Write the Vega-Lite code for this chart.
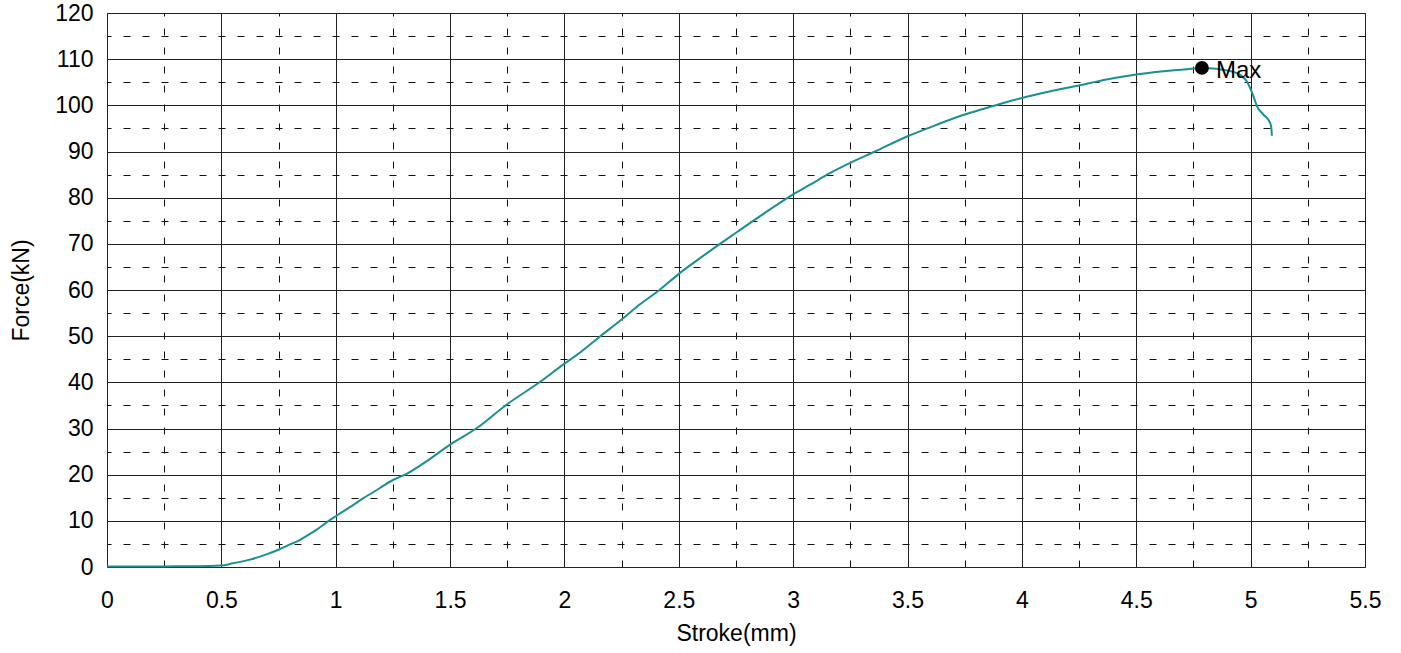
{
  "$schema": "https://vega.github.io/schema/vega-lite/v6.json",
  "width": 1258,
  "height": 554,
  "autosize": "none",
  "padding": {"left": 107, "top": 13, "right": 36, "bottom": 86},
  "background": "white",
  "config": {
    "view": {"stroke": "#333333", "strokeWidth": 1},
    "font": "Liberation Sans",
    "axis": {
      "domain": false,
      "ticks": false,
      "gridWidth": 1,
      "gridOpacity": 1,
      "labelFont": "Liberation Sans",
      "labelFontSize": 23,
      "labelColor": "#000000",
      "titleFont": "Liberation Sans",
      "titleFontSize": 23,
      "titleFontWeight": "normal",
      "titleColor": "#000000",
      "labelOverlap": false,
      "labelFlush": false
    }
  },
  "datasets": {
    "curve": [
      {"stroke": 0.0, "force": 0.1}, {"stroke": 0.1, "force": 0.1}, {"stroke": 0.2, "force": 0.1},
      {"stroke": 0.3, "force": 0.15}, {"stroke": 0.4, "force": 0.15}, {"stroke": 0.5, "force": 0.3},
      {"stroke": 0.55, "force": 0.8}, {"stroke": 0.625, "force": 1.6}, {"stroke": 0.7, "force": 2.8},
      {"stroke": 0.752, "force": 3.8}, {"stroke": 0.8, "force": 4.9}, {"stroke": 0.829, "force": 5.5},
      {"stroke": 0.875, "force": 6.8}, {"stroke": 0.917, "force": 8.1}, {"stroke": 0.975, "force": 10.2},
      {"stroke": 1.0, "force": 11.0}, {"stroke": 1.06, "force": 12.9}, {"stroke": 1.121, "force": 14.9},
      {"stroke": 1.19, "force": 17.0}, {"stroke": 1.252, "force": 18.9}, {"stroke": 1.303, "force": 20.0},
      {"stroke": 1.4, "force": 23.0}, {"stroke": 1.5, "force": 26.5}, {"stroke": 1.617, "force": 30.1},
      {"stroke": 1.748, "force": 35.2}, {"stroke": 1.908, "force": 40.6}, {"stroke": 1.982, "force": 43.4},
      {"stroke": 2.07, "force": 46.5}, {"stroke": 2.157, "force": 50.0}, {"stroke": 2.25, "force": 53.6},
      {"stroke": 2.33, "force": 56.9}, {"stroke": 2.418, "force": 60.1}, {"stroke": 2.5, "force": 63.5},
      {"stroke": 2.59, "force": 66.8}, {"stroke": 2.68, "force": 70.0}, {"stroke": 2.75, "force": 72.4},
      {"stroke": 2.87, "force": 76.5}, {"stroke": 2.986, "force": 80.3}, {"stroke": 3.074, "force": 82.8},
      {"stroke": 3.16, "force": 85.3}, {"stroke": 3.248, "force": 87.5}, {"stroke": 3.358, "force": 90.0},
      {"stroke": 3.5, "force": 93.3}, {"stroke": 3.628, "force": 95.8}, {"stroke": 3.75, "force": 98.0},
      {"stroke": 3.83, "force": 99.2}, {"stroke": 3.919, "force": 100.5}, {"stroke": 4.0, "force": 101.6},
      {"stroke": 4.12, "force": 103.0}, {"stroke": 4.249, "force": 104.3}, {"stroke": 4.37, "force": 105.6},
      {"stroke": 4.5, "force": 106.7}, {"stroke": 4.62, "force": 107.4}, {"stroke": 4.735, "force": 107.9},
      {"stroke": 4.787, "force": 108.1}, {"stroke": 4.85, "force": 107.9}, {"stroke": 4.92, "force": 107.3},
      {"stroke": 4.954, "force": 106.6}, {"stroke": 4.983, "force": 105.2}, {"stroke": 5.012, "force": 102.0},
      {"stroke": 5.027, "force": 99.9}, {"stroke": 5.056, "force": 98.0}, {"stroke": 5.085, "force": 96.2},
      {"stroke": 5.09, "force": 95.3}, {"stroke": 5.093, "force": 93.4}
    ],
    "peak": [{"stroke": 4.787, "force": 108.1, "label": "Max"}]
  },
  "resolve": {"axis": {"x": "independent", "y": "independent"}},
  "layer": [
    {
      "data": {"name": "peak"},
      "mark": {"type": "point", "opacity": 0},
      "encoding": {
        "x": {
          "field": "stroke", "type": "quantitative",
          "scale": {"domain": [0, 5.5], "nice": false, "zero": false},
          "axis": {
            "orient": "top", "title": null, "labels": false, "grid": true,
            "values": [0.25, 0.75, 1.25, 1.75, 2.25, 2.75, 3.25, 3.75, 4.25, 4.75, 5.25],
            "gridDash": [7, 12], "gridColor": "#111111"
          }
        },
        "y": {
          "field": "force", "type": "quantitative",
          "scale": {"domain": [0, 120], "nice": false, "zero": false},
          "axis": {
            "orient": "right", "title": null, "labels": false, "grid": true,
            "values": [5, 15, 25, 35, 45, 55, 65, 75, 85, 95, 105, 115],
            "gridDash": [7, 12], "gridColor": "#111111"
          }
        }
      }
    },
    {
      "data": {"name": "curve"},
      "mark": {"type": "line", "color": "#1a9090", "strokeWidth": 2, "interpolate": "monotone"},
      "encoding": {
        "x": {
          "field": "stroke", "type": "quantitative",
          "axis": {
            "orient": "bottom", "grid": true, "gridColor": "#222222",
            "title": "Stroke(mm)",
            "values": [0, 0.5, 1, 1.5, 2, 2.5, 3, 3.5, 4, 4.5, 5, 5.5],
            "labelExpr": "format(datum.value, '.1~f')",
            "labelPadding": 22,
            "titlePadding": 10
          }
        },
        "y": {
          "field": "force", "type": "quantitative",
          "axis": {
            "orient": "left", "grid": true, "gridColor": "#222222",
            "title": "Force(kN)",
            "values": [0, 10, 20, 30, 40, 50, 60, 70, 80, 90, 100, 110, 120],
            "labelExpr": "format(datum.value, 'd')",
            "labelPadding": 14,
            "titlePadding": 21
          }
        }
      }
    },
    {
      "data": {"name": "peak"},
      "mark": {"type": "point", "filled": true, "color": "#000000", "size": 190, "opacity": 1},
      "encoding": {
        "x": {"field": "stroke", "type": "quantitative", "axis": null},
        "y": {"field": "force", "type": "quantitative", "axis": null}
      }
    },
    {
      "data": {"name": "peak"},
      "mark": {"type": "text", "align": "left", "baseline": "middle", "dx": 14, "dy": 3, "fontSize": 24, "font": "Liberation Sans", "color": "#000000"},
      "encoding": {
        "x": {"field": "stroke", "type": "quantitative", "axis": null},
        "y": {"field": "force", "type": "quantitative", "axis": null},
        "text": {"field": "label"}
      }
    }
  ]
}
